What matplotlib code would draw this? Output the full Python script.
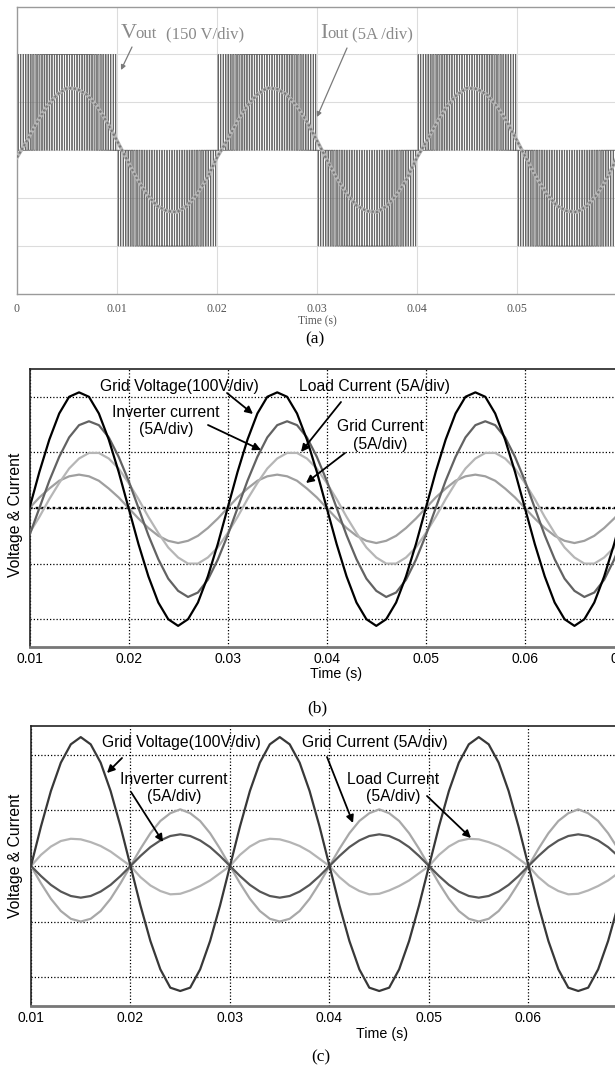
import matplotlib.pyplot as plt
import numpy as np

W, H = 615, 1068

# ---------------- data (values in "divisions", times in seconds) ----------------
# (a) inverter output: one period of the load current, sampled every 1 ms from t = 0
t_step = 0.001
iout_a = [-0.15, 0.20, 0.59, 0.92, 1.16, 1.30, 1.28, 1.16, 0.92, 0.59,
          0.20, -0.20, -0.59, -0.92, -1.16, -1.27, -1.29, -1.16, -0.92, -0.59]
# PWM: duty of each carrier period over the first half of a half cycle (mirrored)
duty_half = [0.04, 0.11, 0.18, 0.24, 0.31, 0.38, 0.44, 0.50, 0.56, 0.61,
             0.66, 0.71, 0.75, 0.78, 0.82, 0.84, 0.87, 0.88, 0.89, 0.90]
vout_level = 2.0
n_half_cycles = 6

# (b) one period each, sampled every 1 ms from t = 0.01
grid_v_b = [0.00, 0.65, 1.23, 1.70, 2.00, 2.08, 2.00, 1.70, 1.23, 0.65,
            0.00, -0.65, -1.23, -1.70, -2.00, -2.12, -2.00, -1.70, -1.23, -0.65]
inv_i_b = [-0.49, 0.00, 0.49, 0.92, 1.27, 1.49, 1.56, 1.49, 1.27, 0.92,
           0.49, 0.00, -0.49, -0.92, -1.27, -1.49, -1.60, -1.52, -1.29, -0.93]
load_i_b = [-0.45, -0.16, 0.16, 0.45, 0.71, 0.89, 0.99, 0.99, 0.89, 0.71,
            0.45, 0.16, -0.16, -0.45, -0.71, -0.89, -1.00, -1.00, -0.89, -0.71]
grid_i_b = [0.00, 0.19, 0.35, 0.49, 0.57, 0.60, 0.57, 0.49, 0.35, 0.19,
            0.00, -0.19, -0.36, -0.50, -0.59, -0.63, -0.59, -0.50, -0.36, -0.19]

# (c) one period each, sampled every 1 ms from t = 0.01
grid_v_c = [0.00, 0.71, 1.35, 1.86, 2.19, 2.32, 2.19, 1.86, 1.35, 0.71,
            0.00, -0.71, -1.35, -1.86, -2.19, -2.25, -2.19, -1.86, -1.35, -0.71]
inv_i_c = [0.00, -0.18, -0.34, -0.46, -0.54, -0.57, -0.54, -0.46, -0.34, -0.18,
           0.00, 0.18, 0.34, 0.46, 0.54, 0.57, 0.54, 0.46, 0.34, 0.18]
grid_i_c = [0.00, -0.31, -0.59, -0.81, -0.95, -1.00, -0.95, -0.81, -0.59, -0.31,
            0.00, 0.31, 0.59, 0.81, 0.95, 1.02, 0.95, 0.81, 0.59, 0.31]
load_i_c = [0.00, 0.20, 0.35, 0.45, 0.49, 0.48, 0.43, 0.36, 0.26, 0.13,
            0.00, -0.20, -0.35, -0.45, -0.51, -0.50, -0.44, -0.36, -0.26, -0.13]

ticks_a = [0, 0.01, 0.02, 0.03, 0.04, 0.05]
ticklabels_a = ["0", "0.01", "0.02", "0.03", "0.04", "0.05"]
ticks_bc = [0.01, 0.02, 0.03, 0.04, 0.05, 0.06, 0.07]
ticklabels_bc = ["0.01", "0.02", "0.03", "0.04", "0.05", "0.06", "0.07"]


def periodic(period, t0, n_periods):
    vals = list(period) * n_periods + [period[0]]
    t = t0 + t_step * np.arange(len(vals))
    return t, np.array(vals)


def rect(l, t, r, b):
    return [l / W, 1 - b / H, (r - l) / W, (b - t) / H]


def fxy(x, y):
    return (x / W, 1 - y / H)


SERIF = "Liberation Serif"
SANS = "Liberation Sans"

fig = plt.figure(figsize=(W / 100, H / 100), dpi=100)

# ---------------- (a) ----------------
ax = fig.add_axes(rect(17, 6.5, 617, 294))
ax.set_xlim(0, 0.06)
ax.set_ylim(-3, 3)

duty = duty_half + duty_half[::-1]
Tc = 0.01 / len(duty)
xs, ys = [], []
for h in range(n_half_cycles):
    lvl = vout_level if h % 2 == 0 else -vout_level
    for j, d in enumerate(duty):
        t0 = h * 0.01 + j * Tc
        a = t0 + Tc * (1 - d) / 2
        b = t0 + Tc * (1 + d) / 2
        xs += [t0, a, a, b, b]
        ys += [0, 0, lvl, lvl, 0]
ax.plot(xs, ys, color="#666666", lw=0.6, zorder=2)

t, v = periodic(iout_a, 0.0, 3)
ax.plot(t, v, color="#b8b8b8", lw=2.6, zorder=3)
ax.plot(t, v, color="#7a7a7a", lw=1.6, ls=(0, (1, 1)), zorder=4)

for y in [-2, -1, 0, 1, 2]:
    ax.axhline(y, color="#dcdcdc", lw=0.8, zorder=0)
for x in [0.01, 0.02, 0.03, 0.04, 0.05]:
    ax.axvline(x, color="#dcdcdc", lw=0.8, zorder=0)
for s in ax.spines.values():
    s.set_color("#9a9a9a")
    s.set_linewidth(1.0)
ax.set_yticks([])
ax.set_xticks(ticks_a)
ax.set_xticklabels(ticklabels_a, fontfamily=SERIF, fontsize=8.5, color="#555555")
ax.tick_params(axis="x", length=0, pad=6.5)

fig.text(*fxy(317, 321), "Time (s)", family=SERIF, fontsize=8.3, color="#555555",
         ha="center", va="center")
fig.text(*fxy(315, 339), "(a)", family=SERIF, fontsize=12.5, ha="center", va="center")

gray_txt = "#8a8a8a"
fig.text(*fxy(121, 38), "V", family=SERIF, fontsize=16, color=gray_txt, va="baseline")
fig.text(*fxy(135, 38), "out", family=SERIF, fontsize=12, color=gray_txt, va="baseline")
fig.text(*fxy(166, 38), "(150 V/div)", family=SERIF, fontsize=12, color=gray_txt, va="baseline")
fig.text(*fxy(320, 38), "I", family=SERIF, fontsize=16, color=gray_txt, va="baseline")
fig.text(*fxy(327, 38), "out", family=SERIF, fontsize=12, color=gray_txt, va="baseline")
fig.text(*fxy(352, 38), "(5A /div)", family=SERIF, fontsize=12, color=gray_txt, va="baseline")
for (x0, y0), (x1, y1) in [((132, 47), (121, 70)), ((347, 48), (317, 117))]:
    ax.annotate("", xy=fxy(x1, y1), xycoords="figure fraction",
                xytext=fxy(x0, y0), textcoords="figure fraction",
                arrowprops=dict(arrowstyle="-|>", color="#7a7a7a", lw=0.9,
                                mutation_scale=7, shrinkA=0, shrinkB=0))


def scope_axes(rc, ylim, bold_zero):
    ax = fig.add_axes(rc)
    ax.set_xlim(0.01, 0.07)
    ax.set_ylim(*ylim)
    ax.set_xticks(ticks_bc)
    ax.set_xticklabels(ticklabels_bc, fontfamily=SANS, fontsize=10)
    ax.set_yticks([-2, -1, 0, 1, 2])
    ax.set_yticklabels([])
    ax.tick_params(length=0, pad=4)
    ax.tick_params(axis="x", pad=3.5)
    ax.grid(True, color="black", lw=0.9, ls=(0, (1, 1.6)))
    ax.set_axisbelow(True)
    if bold_zero:
        ax.axhline(0, color="black", lw=1.7, ls=(0, (1.1, 1.3)), zorder=1)
    for name, s in ax.spines.items():
        s.set_color("#222222")
        s.set_linewidth(1.2)
    ax.spines["bottom"].set_color("#777777")
    ax.spines["bottom"].set_linewidth(2.0)
    return ax


def label_arrows(items):
    for text, (tx, ty), (x0, y0), (x1, y1) in items:
        fig.text(*fxy(tx, ty), text, family=SANS, fontsize=11.3, ha="center",
                 va="center", linespacing=1.2, zorder=6)
        fig.add_artist(plt.matplotlib.patches.FancyArrowPatch(
            fxy(x0, y0), fxy(x1, y1), transform=fig.transFigure,
            arrowstyle="-|>", color="black", lw=1.3, mutation_scale=11,
            shrinkA=0, shrinkB=0, zorder=6))


# ---------------- (b) ----------------
ax = scope_axes(rect(29.5, 369, 624, 647), (-2.5, 2.5), True)
for vals, col in [(grid_i_b, "#9f9f9f"), (load_i_b, "#b6b6b6"),
                  (inv_i_b, "#626262"), (grid_v_b, "#000000")]:
    t, v = periodic(vals, 0.01, 3)
    ax.plot(t, v, color=col, lw=1.6, zorder=3)

fig.text(*fxy(16, 515), "Voltage & Current", family=SANS, fontsize=11.3,
         rotation=90, ha="center", va="center")
fig.text(*fxy(336, 674), "Time (s)", family=SANS, fontsize=10.3, ha="center", va="center")
fig.text(*fxy(317, 708), "(b)", family=SERIF, fontsize=12.5, ha="center", va="center")

label_arrows([
    ("Grid Voltage(100V/div)", (179, 386), (227, 393), (253, 414)),
    ("Load Current (5A/div)", (374, 386), (341, 402), (301, 452)),
    ("Inverter current\n(5A/div)", (166, 421), (208, 425), (261, 450)),
    ("Grid Current\n(5A/div)", (380, 435.5), (345, 453), (306, 483)),
])

# ---------------- (c) ----------------
ax = scope_axes(rect(31, 726, 628, 1006), (-2.52, 2.52), False)
for vals, col in [(load_i_c, "#b4b4b4"), (grid_i_c, "#a8a8a8"),
                  (inv_i_c, "#565656"), (grid_v_c, "#383838")]:
    t, v = periodic(vals, 0.01, 3)
    ax.plot(t, v, color=col, lw=1.6, zorder=3)

fig.text(*fxy(16, 856), "Voltage & Current", family=SANS, fontsize=11.3,
         rotation=90, ha="center", va="center")
fig.text(*fxy(382, 1034), "Time (s)", family=SANS, fontsize=10.3, ha="center", va="center")
fig.text(*fxy(321, 1057), "(c)", family=SERIF, fontsize=12.5, ha="center", va="center")

label_arrows([
    ("Grid Voltage(100V/div)", (181, 743), (122, 758), (107, 773)),
    ("Grid Current (5A/div)", (375, 743), (327, 757), (353, 823)),
    ("Inverter current\n(5A/div)", (174, 788), (131, 792), (163, 842)),
    ("Load Current\n(5A/div)", (393, 788), (427, 796), (471, 838)),
])

fig.savefig("out.png", dpi=100)
